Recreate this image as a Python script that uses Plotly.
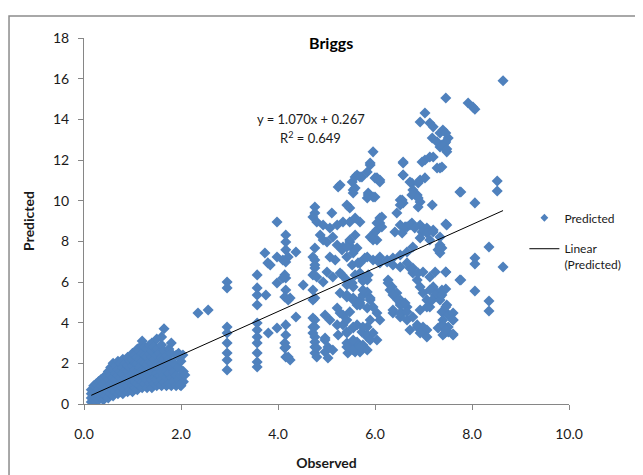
import plotly.graph_objects as go

# ---- data (Observed, Predicted) ----
low_obs = [
    0.15,0.15,0.15,0.15, 0.2,0.2,0.2,0.2, 0.25,0.25,0.25,0.25, 0.3,0.3,0.3,0.3,
    0.35,0.35,0.35,0.35, 0.4,0.4,0.4,0.4,0.4, 0.45,0.45,0.45,0.45,
    0.5,0.5,0.5,0.5,0.5, 0.55,0.55,0.55,0.55,0.55, 0.6,0.6,0.6,0.6,0.6,0.6,
    0.65,0.65,0.65,0.65,0.65, 0.7,0.7,0.7,0.7,0.7,0.7, 0.75,0.75,0.75,0.75,0.75,
    0.8,0.8,0.8,0.8,0.8,0.8, 0.85,0.85,0.85,0.85,0.85, 0.9,0.9,0.9,0.9,0.9,0.9,
    0.95,0.95,0.95,0.95,0.95, 1.0,1.0,1.0,1.0,1.0,1.0,1.0, 1.05,1.05,1.05,1.05,1.05,1.05,
    1.1,1.1,1.1,1.1,1.1,1.1,1.1, 1.15,1.15,1.15,1.15,1.15,1.15,
    1.2,1.2,1.2,1.2,1.2,1.2,1.2,1.2, 1.25,1.25,1.25,1.25,1.25,1.25,
    1.3,1.3,1.3,1.3,1.3,1.3, 1.35,1.35,1.35,1.35,1.35,1.35,
    1.4,1.4,1.4,1.4,1.4,1.4,1.4, 1.45,1.45,1.45,1.45,1.45,
    1.5,1.5,1.5,1.5,1.5,1.5,1.5, 1.55,1.55,1.55,1.55,1.55,
    1.6,1.6,1.6,1.6,1.6,1.6,1.6, 1.65,1.65,1.65,1.65,1.65,1.65,
    1.7,1.7,1.7,1.7,1.7, 1.75,1.75,1.75,1.75, 1.8,1.8,1.8,1.8,1.8,
    1.85,1.85,1.85, 1.9,1.9,1.9, 1.95,1.95,1.95, 2.0,2.0,2.0, 2.05,2.05,
    1.94,2.04,2.08,1.98,
]
low_pred = [
    0.1,0.3,0.5,0.7, 0.2,0.4,0.6,0.9, 0.1,0.5,0.8,1.0, 0.2,0.4,0.7,1.1,
    0.3,0.6,0.9,1.2, 0.2,0.5,0.8,1.0,1.3, 0.4,0.7,1.1,1.4,
    0.3,0.6,0.9,1.2,1.6, 0.5,0.8,1.0,1.4,1.8, 0.4,0.7,1.1,1.3,1.7,2.0,
    0.6,0.9,1.2,1.5,1.9, 0.5,0.8,1.0,1.4,1.7,2.1, 0.6,0.9,1.3,1.6,2.0,
    0.5,0.8,1.1,1.5,1.8,2.2, 0.7,1.0,1.3,1.7,2.0, 0.6,0.9,1.2,1.6,1.9,2.3,
    0.7,1.1,1.4,1.8,2.1, 0.6,0.9,1.2,1.5,1.9,2.2,2.5, 0.8,1.1,1.4,1.7,2.0,2.4,
    0.7,1.0,1.3,1.6,2.0,2.3,2.7, 0.9,1.2,1.5,1.8,2.2,2.6,
    0.8,1.1,1.4,1.7,2.1,2.5,2.9,3.1, 1.0,1.3,1.6,2.0,2.4,2.8,
    0.8,1.2,1.5,1.9,2.3,2.7, 1.0,1.4,1.7,2.1,2.5,2.9,
    0.8,1.2,1.6,2.0,2.3,2.6,3.0, 1.0,1.3,1.8,2.2,2.8,
    0.9,1.2,1.5,1.9,2.4,2.7,3.2, 1.0,1.4,1.7,2.1,2.5,
    0.9,1.2,1.6,2.0,2.3,2.9,3.3, 1.1,1.4,1.8,2.2,2.6,3.7,
    0.9,1.3,1.6,2.0,2.4, 1.0,1.5,2.2,2.7, 0.9,1.3,1.8,2.5,3.0,
    1.1,1.6,2.0, 0.9,1.4,2.4, 1.2,1.8,2.5, 0.9,1.4,2.1, 1.1,1.6,
    2.41,2.41,1.43,0.93,
]

mid_obs = [
    2.35,2.56, 2.95,2.95,2.95,2.95,2.95,2.95,2.95,2.95,
    3.57,3.57,3.57,3.57,3.57,3.57,3.57,3.57,3.57,3.57,3.57, 3.73,3.79,3.75,
    3.98,4.16,4.16,4.16,4.16,4.37,3.98,4.16,4.16,4.25,4.52,4.37,3.98,4.16,4.16,4.16,4.16,4.25,3.80,
    4.21,3.98,4.10,4.14,3.84,4.10,4.14,4.21,4.14,4.14,4.21,
    4.76,4.76,4.76,4.76,4.76,4.76,4.76,4.76,4.76,4.76,4.76,4.97,4.97,
    4.72,4.80,4.72,4.76,4.72,4.80,4.93,4.72,4.72,4.72,4.72,4.72,4.76,4.80,4.80,
    4.97,5.03,5.13,5.03,
    5.24,5.42,5.48,5.11, 4.93,5.07,5.22,5.34,5.48,5.59,5.69,
    4.87,4.93,5.01,5.13,5.22,5.34,5.48,5.53,5.63,
    5.07,5.18,5.32,5.42,5.53,5.65,5.79, 5.01,5.13,5.32,5.59,5.73,5.86,
    5.63,5.73,5.53,5.59,5.55,
    4.97,5.07,5.22,5.22,5.34,5.48,5.63,5.69,5.42,5.55,5.75,5.84,5.55,5.75,5.42,
    5.42,5.55,5.63,5.73,5.84,5.42,5.53,5.63,5.75,5.44,5.59,5.69,5.84,5.34,5.24,
]
mid_pred = [
    4.48,4.62, 6.00,5.71,3.79,3.49,3.00,2.51,2.16,1.67,
    6.35,5.71,5.36,4.87,3.98,3.64,3.30,3.00,2.51,2.07,1.82, 7.43,6.94,5.36,
    8.95,8.31,7.97,7.58,6.98,7.48,5.95,6.20,5.61,5.21,5.85,4.28,3.74,3.89,3.39,2.80,2.31,2.16,3.49,
    7.23,7.23,7.08,6.35,6.84,6.20,5.26,5.12,3.00,2.75,2.31,
    9.69,9.39,7.67,7.08,6.69,5.21,4.13,3.79,3.30,2.80,2.51,3.15,2.56,
    9.20,8.95,7.23,6.84,6.35,6.25,6.00,5.12,5.61,4.23,3.79,3.49,3.05,2.75,2.31,
    3.25,2.80,2.66,2.26,
    10.67,9.79,9.64,9.39, 8.80,8.66,8.80,8.95,8.95,9.15,8.95,
    8.31,8.07,7.97,8.21,7.82,7.72,7.97,7.67,7.67,
    7.23,7.08,7.58,7.23,6.84,6.94,7.18, 6.49,6.25,6.35,6.35,6.20,6.35,
    11.26,11.17,10.92,10.62,10.38,
    4.38,4.13,3.89,4.72,4.38,4.53,4.87,5.12,5.36,5.21,5.36,5.51,5.76,6.05,5.85,
    3.54,3.74,3.89,3.54,3.39,3.00,2.80,3.05,2.90,2.51,2.56,2.56,2.66,3.89,3.39,
]

high_obs = [
    5.96,5.90,6.58,7.03,7.13,7.34,7.48,7.28, 5.59,5.55,6.04,6.10,6.58,6.76,6.93,
    5.28,5.86,6.00,6.52,6.58,6.87,6.93,7.18,7.75, 6.45,6.14,6.10,6.04,5.96,
    6.76,6.93,7.07,7.20,7.48,6.66,6.56, 7.34,7.34, 5.59,5.48,5.42,5.55, 6.41,
    5.84,5.96,6.10,6.25,6.37, 6.52,6.66,6.78, 5.28,5.42,5.53,
    5.28,5.42,5.55,5.69, 5.90,5.96,6.04,6.10, 6.27,6.35,6.45,6.52,6.66, 6.52,6.56,
    6.72,6.78,6.87,6.93,6.99,7.07,7.13, 7.46,7.75, 7.20,7.28,7.34, 7.48,7.61,
    6.37,6.52,6.66,6.78,6.93,7.07, 6.72,6.87,6.99,
    5.28,5.42,5.55,5.42,5.55, 5.84,5.96,6.04, 5.42,5.55,5.69, 7.38,7.51,7.61,
    7.03,6.93,7.13,7.20, 7.34,7.40,7.18,7.28,7.38,7.44,7.51, 5.90,
    6.58,6.58,6.72,6.78,6.89,7.03,6.76,6.89,6.89, 6.97,7.20,7.34,
    6.00,6.10,5.84,5.69, 5.86,5.96,5.84, 6.56,6.52,
    6.10,6.04,6.14,6.00,6.04,5.90, 6.52,6.62,6.72,6.82,6.97,7.07,7.20,7.34,7.13,6.93, 7.34,
    5.96,7.30, 6.10,6.25,6.37,6.52,6.66,6.78,6.89,6.99,7.13,7.24,
    5.69,5.69,5.84,5.75,5.90,5.69,5.84,5.90,5.75,5.84,5.90,
    6.27,6.31,6.37,6.47,6.52,6.62,6.37,6.52,6.66,
    7.13,7.24,7.38,7.46,7.18,7.34,7.48,7.38,7.51,7.40,7.51,7.44,
    6.87,6.99,7.07,6.93,7.07, 7.30,7.40,
    8.64,7.46,7.92,8.02,8.06, 7.46,7.46,7.40,7.48,7.38,
    8.52,8.52,7.77,8.06, 7.46,7.38,8.35,8.06,8.06,8.64,
    7.46,7.77,8.06,7.38,7.46,7.61,7.61,8.35,8.35,7.40,7.46,7.61,
]
high_pred = [
    12.40,11.76,11.85,12.00,12.15,12.64,12.40,11.61, 11.17,10.53,11.12,10.92,11.26,10.87,11.02,
    10.77,10.38,10.18,10.03,9.89,10.28,9.94,9.79,10.43, 9.39,9.20,8.90,8.56,8.17,
    8.90,8.80,8.66,8.56,8.80,8.71,8.41, 7.72,7.43, 8.31,8.07,7.72,7.43, 8.46,
    7.23,7.08,6.94,7.08,7.18, 7.33,7.48,7.72, 6.44,6.10,5.95,
    5.46,5.26,5.12,4.97, 5.12,4.77,4.48,4.13, 6.10,5.76,5.46,5.12,4.77, 4.97,4.48,
    6.69,6.44,6.10,5.76,5.46,5.12,4.77, 6.49,6.10, 5.76,5.46,5.26, 4.48,4.13,
    4.48,4.28,4.13,4.28,4.62,4.77, 3.64,3.79,3.54,
    4.48,4.13,3.79,3.49,3.15, 3.79,3.49,3.15, 2.80,2.66,2.80, 3.89,3.54,3.39,
    14.31,13.87,13.82,13.63, 13.33,13.48,13.08,12.89,12.74,12.84,13.08, 11.85,
    11.90,11.26,10.92,10.53,10.87,11.12,10.28,10.13,9.69, 11.90,12.15,11.61,
    11.12,11.02,11.41,11.17, 10.28,10.18,10.13, 10.03,9.79,
    9.15,8.90,8.71,8.46,8.07,8.21, 8.80,8.71,8.80,8.66,8.46,8.41,8.46,8.21,8.07,8.17, 7.82,
    8.07,7.58, 7.23,6.98,6.84,6.74,6.94,6.69,6.44,6.49,6.25,6.49,
    6.94,6.44,6.10,5.61,5.21,4.87,4.72,4.13,3.79,3.30,3.15,
    5.95,5.61,5.36,5.12,4.87,4.97,4.62,4.48,4.53,
    5.61,5.36,5.61,5.66,5.12,5.12,4.87,4.53,4.38,4.13,3.79,3.49,
    3.89,3.79,3.64,3.49,3.30, 3.74,3.39,
    15.90,15.05,14.80,14.60,14.50, 13.33,12.89,12.69,12.54,11.66,
    10.97,10.48,10.43,9.89, 8.85,7.67,7.72,7.18,6.89,6.74,
    6.49,6.10,5.56,5.36,4.77,4.48,4.13,5.07,4.57,3.89,3.64,3.44,
]

observed = low_obs + mid_obs + high_obs
predicted = low_pred + mid_pred + high_pred

# Linear trend shown on the chart
slope, intercept = 1.070, 0.267
r_squared = 0.649
x_ticks = [0, 2, 4, 6, 8, 10]
y_ticks = [0, 2, 4, 6, 8, 10, 12, 14, 16, 18]

BLUE = "#4F81BD"
FONT = "Lato, 'Open Sans', sans-serif"

x_lo, x_hi = min(observed), max(observed)

fig = go.Figure()
fig.add_trace(go.Scatter(
    x=observed, y=predicted, mode="markers", name="Predicted",
    marker=dict(symbol="diamond", size=8.5, color=BLUE, line=dict(width=0)),
    showlegend=False, hoverinfo="x+y",
))
# legend entry with the small legend marker
fig.add_trace(go.Scatter(
    x=[None], y=[None], mode="markers", name="Predicted",
    marker=dict(symbol="diamond", size=6, color=BLUE, line=dict(width=0)),
    legendgroup="a",
))
fig.add_trace(go.Scatter(
    x=[x_lo, x_hi], y=[slope * x_lo + intercept, slope * x_hi + intercept],
    mode="lines", name="Linear<br>(Predicted)",
    line=dict(color="black", width=1), legendgroup="b", hoverinfo="skip",
))

# the page body adds an 8px offset; margins compensate for it
fig.update_layout(
    width=643, height=475,
    margin=dict(l=76, r=82, t=30, b=79),
    paper_bgcolor="white", plot_bgcolor="white",
    font=dict(family=FONT, size=14, color="#1a1a1a"),
    showlegend=True,
    legend=dict(
        x=0.908, y=0.548, xanchor="left", yanchor="top",
        font=dict(size=12, color="#1a1a1a"), bgcolor="rgba(0,0,0,0)",
        traceorder="grouped", tracegroupgap=12, valign="top",
    ),
    xaxis=dict(
        range=[0, 10], tickvals=x_ticks, tickformat=".1f",
        showgrid=False, zeroline=False, showline=True, linecolor="#868686",
        ticks="outside", ticklen=5, tickcolor="#868686", ticklabelstandoff=12,
        title=dict(text="<b>Observed</b>", standoff=17, font=dict(size=14)),
    ),
    yaxis=dict(
        range=[0, 18], tickvals=y_ticks,
        showgrid=False, zeroline=False, showline=True, linecolor="#868686",
        ticks="outside", ticklen=5, tickcolor="#868686", ticklabelstandoff=6,
        title=dict(text="<b>Predicted</b>", standoff=15, font=dict(size=14)),
    ),
    annotations=[
        dict(text="<b>Briggs</b>", xref="paper", yref="paper", x=0.509, y=0.989,
             showarrow=False, font=dict(size=16, color="black"), yanchor="middle"),
        dict(text=f"y = {slope:.3f}x + {intercept:.3f}", xref="paper", yref="paper",
             x=0.468, y=0.779, showarrow=False, font=dict(size=13, color="#1a1a1a"),
             yanchor="middle"),
        dict(text=f"R<sup>2</sup> = {r_squared:.3f}", xref="paper", yref="paper",
             x=0.468, y=0.727, showarrow=False, font=dict(size=13, color="#1a1a1a"),
             yanchor="middle"),
    ],
    shapes=[
        dict(type="rect", xref="paper", yref="paper",
             x0=-0.1546, y0=-0.4, x1=1.4, y1=1.060,
             line=dict(color="#8C8C8C", width=1.5), layer="below"),
    ],
)

fig.write_html("out.html")
